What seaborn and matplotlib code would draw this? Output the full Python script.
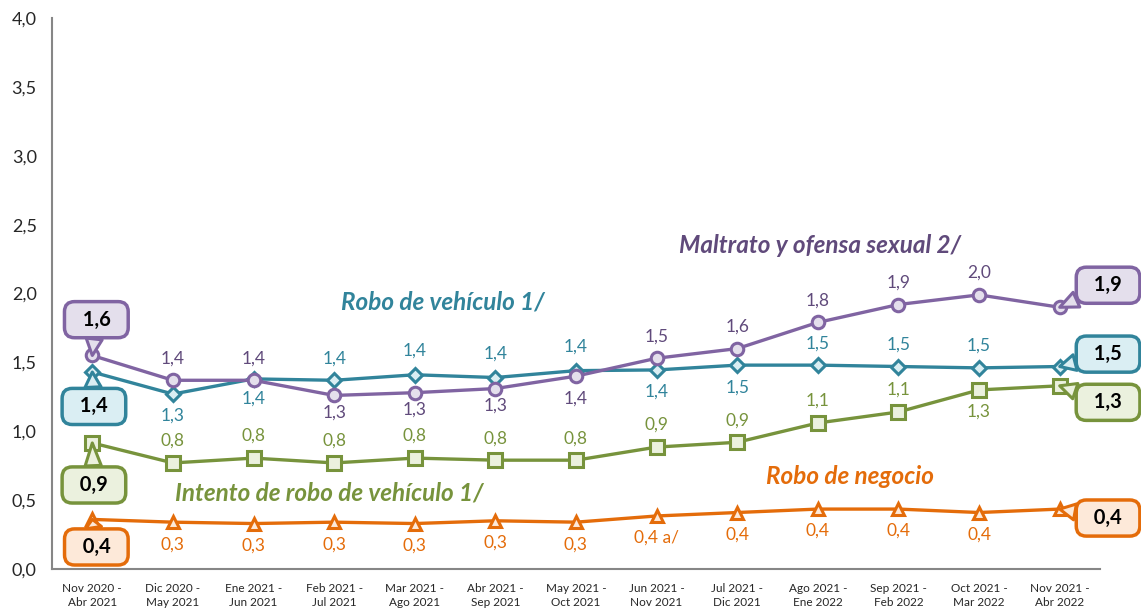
import matplotlib
matplotlib.use("Agg")
import matplotlib.pyplot as plt
import seaborn as sns

# categories (rolling 6-month windows)
periods = ["Nov 2020 -\nAbr 2021", "Dic 2020 -\nMay 2021", "Ene 2021 -\nJun 2021",
           "Feb 2021 -\nJul 2021", "Mar 2021 -\nAgo 2021", "Abr 2021 -\nSep 2021",
           "May 2021 -\nOct 2021", "Jun 2021 -\nNov 2021", "Jul 2021 -\nDic 2021",
           "Ago 2021 -\nEne 2022", "Sep 2021 -\nFeb 2022", "Oct 2021 -\nMar 2022",
           "Nov 2021 -\nAbr 2022"]

maltrato = [1.55, 1.37, 1.37, 1.26, 1.28, 1.31, 1.40, 1.53, 1.60, 1.79, 1.92, 1.99, 1.90]
robo_vehiculo = [1.43, 1.27, 1.38, 1.37, 1.41, 1.39, 1.44, 1.445, 1.48, 1.48, 1.47, 1.46, 1.47]
intento_robo = [0.915, 0.77, 0.805, 0.77, 0.805, 0.79, 0.79, 0.885, 0.92, 1.06, 1.14, 1.30, 1.33]
robo_negocio = [0.36, 0.34, 0.33, 0.34, 0.33, 0.35, 0.34, 0.385, 0.41, 0.435, 0.435, 0.41, 0.435]

yticks = [0.0, 0.5, 1.0, 1.5, 2.0, 2.5, 3.0, 3.5, 4.0]

sns.set_style("white")
plt.rcParams['font.family'] = ['Lato', 'DejaVu Sans']

fig = plt.figure(figsize=(11.41, 6.12), dpi=100)
ax = fig.add_axes([52 / 1141, 43 / 612, (1100 - 52) / 1141, 551 / 612])

x = list(range(len(periods)))

# (values, line color, face color, marker, size, text color, label offsets in px)
# drawn bottom to top so purple sits over teal like the original
series = [
    (robo_negocio, "#E46C0A", "#FDE9D9", "^", 8.5, "#E46C0A",
     [0, -22, -22, -22, -22, -22, -22, -22, -22, -22, -22, -22, 0]),
    (intento_robo, "#77933C", "#EBF1DE", "s", 10, "#77933C",
     [0, 22, 22, 22, 22, 22, 22, 22, 22, 22, 22, -22, 0]),
    (robo_vehiculo, "#31849B", "#DAEEF3", "D", 7.5, "#31849B",
     [0, -22, -20, 22, 24, 24, 24, -22, -22, 22, 22, 22, 0]),
    (maltrato, "#8064A2", "#E4DFEC", "o", 9, "#604A7B",
     [0, 22, 22, -17, -17, -17, -22, 22, 22, 22, 22, 22, 0]),
]

for vals, col, fc, mk, ms, tcol, offs in series:
    sns.lineplot(x=x, y=vals, ax=ax, color=col, linewidth=2.4, marker=mk,
                 markersize=ms, markerfacecolor=fc, markeredgecolor=col,
                 markeredgewidth=2.2, zorder=3)
    for i in range(1, len(vals) - 1):
        txt = f"{vals[i]:.1f}".replace(".", ",")
        if vals is robo_negocio and i == 7:
            txt = "0,4 a/"
        ax.annotate(txt, (i, vals[i]), xytext=(0, offs[i] * 0.72),
                    textcoords="offset points", ha="center", va="center",
                    color=tcol, fontsize=12.5)


# callout boxes for first and last value
def callout(xi, val, bx, by, col, fc):
    txt = "  " + f"{val:.1f}".replace(".", ",") + "  "
    ax.annotate(txt, (xi, val), xytext=(bx, by), textcoords="data",
                ha="center", va="center", fontsize=14.5, fontweight="bold",
                color="black", annotation_clip=False, zorder=5,
                bbox=dict(boxstyle="round,pad=0.4,rounding_size=0.5", fc=fc, ec=col, lw=2.5),
                arrowprops=dict(arrowstyle="wedge,tail_width=0.8,shrink_factor=0.5",
                                fc=fc, ec=col, lw=2.2, shrinkA=0, shrinkB=0))


callout(0, maltrato[0], 0.05, 1.81, "#8064A2", "#E4DFEC")
callout(0, robo_vehiculo[0], 0.02, 1.18, "#31849B", "#DAEEF3")
callout(0, intento_robo[0], 0.02, 0.61, "#77933C", "#EBF1DE")
callout(0, robo_negocio[0], 0.05, 0.16, "#E46C0A", "#FDE9D9")
callout(12, maltrato[-1], 12.6, 2.06, "#8064A2", "#E4DFEC")
callout(12, robo_vehiculo[-1], 12.6, 1.56, "#31849B", "#DAEEF3")
callout(12, intento_robo[-1], 12.6, 1.21, "#77933C", "#EBF1DE")
callout(12, robo_negocio[-1], 12.6, 0.37, "#E46C0A", "#FDE9D9")

# series names
name_kw = dict(fontsize=17.5, fontweight="bold", style="italic", ha="center", va="center")
ax.text(9.03, 2.35, "Maltrato y ofensa sexual 2/", color="#604A7B", **name_kw)
ax.text(4.35, 1.94, "Robo de vehículo 1/", color="#31849B", **name_kw)
ax.text(2.94, 0.55, "Intento de robo de vehículo 1/", color="#77933C", **name_kw)
ax.text(9.4, 0.67, "Robo de negocio", color="#E46C0A", **name_kw)

ax.set_xlim(-0.5, 12.5)
ax.set_ylim(0, 4.0)
ax.set_yticks(yticks)
ax.set_yticklabels([f"{t:.1f}".replace(".", ",") for t in yticks], fontsize=13)
ax.set_xticks(x)
ax.set_xticklabels(periods, fontsize=8.5, linespacing=1.4)
ax.set_xticks([i - 0.5 for i in range(len(periods) + 1)], minor=True)
ax.tick_params(axis="x", which="major", length=0, pad=10)
ax.tick_params(axis="x", which="minor", length=5, color="#868686", width=1.2)
ax.tick_params(axis="y", length=5, color="#868686", width=1.2, pad=6)
ax.set_xlabel("")
ax.set_ylabel("")

for s in ["top", "right"]:
    ax.spines[s].set_visible(False)
for s in ["left", "bottom"]:
    ax.spines[s].set_color("#868686")
    ax.spines[s].set_linewidth(1.5)

fig.savefig("out.png", dpi=100)
